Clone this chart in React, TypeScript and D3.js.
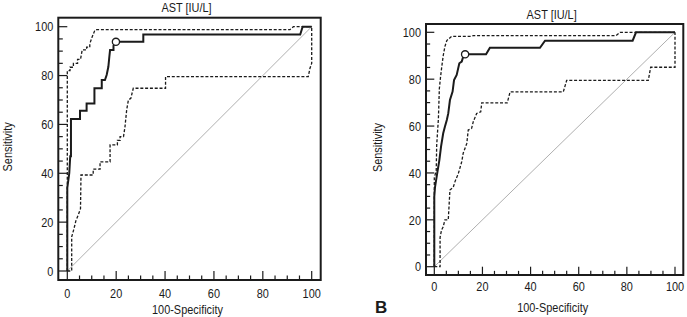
import React from "react";
import * as d3 from "d3";

type Pt = [number, number];

const xTicks = [0, 20, 40, 60, 80, 100];
const yTicks = [0, 20, 40, 60, 80, 100];
const chartTitle = "AST [IU/L]";
const xTitle = "100-Specificity";
const yTitle = "Sensitivity";

// panel A: empirical ROC curve with its confidence band
const rocA: Pt[] = [
  [0, 0], [0, 34], [0.8, 40], [1.2, 47], [1.5, 47], [1.5, 62.2], [5.2, 62.2],
  [5.2, 65.6], [7.9, 65.6], [7.9, 68.6], [11.1, 68.6], [11.1, 74.8], [14.1, 74.8],
  [14.1, 78.2], [15.4, 78.2], [16.1, 80.2], [16.8, 83.6], [17.2, 87.7], [17.5, 90.5],
  [18.9, 90.5], [18.9, 92.2], [19.9, 93.8], [31.1, 93.8], [31.1, 96.8], [95.3, 96.8],
  [96.3, 100], [100, 100],
];
const upperA: Pt[] = [
  [0, 0], [0, 82], [1.1, 82], [1.1, 83.4], [2.5, 83.4], [2.5, 85], [4.2, 85],
  [4.2, 86.6], [5.4, 86.6], [6.1, 90.5], [7.9, 90.5], [7.9, 91.6], [9.2, 91.6],
  [9.2, 93], [10.2, 95.9], [11.3, 98.6], [12, 98.8], [91.1, 98.8], [92.5, 100], [100, 100],
];
const lowerA: Pt[] = [
  [0, 0], [1.8, 0], [1.8, 14], [2.6, 16.8], [3.5, 20.5], [4.5, 23], [5.4, 25.5],
  [5.6, 39.3], [10.6, 39.3], [10.6, 41.7], [13.4, 41.7], [13.4, 44.7], [17.5, 44.7],
  [17.5, 51.6], [20.5, 51.6], [20.5, 53.5], [21.6, 53.5], [21.6, 55], [23, 55],
  [23.6, 59], [24.3, 66], [25, 70], [26, 70.7], [27, 74.8], [40.2, 74.8], [40.2, 79.6],
  [98.6, 79.6], [99.3, 83], [100, 85], [100, 100],
];
const cutoffA: Pt = [19.9, 93.8];

// panel B
const rocB: Pt[] = [
  [0, 0], [0, 30], [0.3, 34], [1.2, 39.8], [2.1, 45.5], [2.8, 51.2], [3.7, 56.9],
  [4.4, 59.7], [5.2, 62.6], [5.8, 65.4], [6.5, 71.1], [7.6, 74.7], [8.2, 79.6],
  [9.3, 81.8], [10.4, 86.8], [11.4, 87.5], [12, 89.6], [12.8, 90.6], [21.5, 90.6],
  [23.1, 93.4], [43.9, 93.4], [46, 96.4], [82.4, 96.4], [83.8, 100], [100, 100],
];
const upperB: Pt[] = [
  [0, 0], [0, 38], [0.8, 41], [1, 52], [1.7, 63], [2.1, 76], [2.6, 81], [3.1, 85.3],
  [3.7, 90], [4.4, 93.9], [5.2, 96.5], [7.2, 98.3], [15.5, 98.3], [16.2, 98.6],
  [75.5, 98.6], [77.2, 100], [100, 100],
];
const lowerB: Pt[] = [
  [0, 0], [2.4, 0], [2.4, 12.5], [3, 15.6], [3.7, 17], [4.4, 20], [5.8, 20],
  [6.5, 32.7], [7.9, 34], [8.6, 36.3], [10, 39.8], [11.4, 44.8], [12, 48.4],
  [13.5, 52.6], [14.1, 58.3], [15.5, 59], [16.2, 61.9], [17.6, 65.4], [19.3, 66.1],
  [19.7, 69.9], [30.3, 69.9], [31.5, 74.6], [53.6, 74.6], [55, 79.5], [88.9, 79.5],
  [89.9, 85.1], [100, 85.1], [100, 100],
];
const cutoffB: Pt = [12.8, 90.6];

const FONT = "'Liberation Sans', Arial, sans-serif";
const INK = "#1b1b1b";

// condensed label: regular sans squeezed horizontally
function Label({
  x, y, anchor = "middle", rotate = 0, dy, children,
}: {
  x: number; y: number; anchor?: "start" | "middle" | "end"; rotate?: number; dy?: string;
  children: React.ReactNode;
}) {
  return (
    <text
      transform={`translate(${x},${y}) rotate(${rotate}) scale(0.84,1)`}
      textAnchor={anchor}
      dy={dy}
      fontSize={13}
    >
      {children}
    </text>
  );
}

type PanelProps = {
  roc: Pt[];
  upper: Pt[];
  lower: Pt[];
  cutoff: Pt;
  left: number;
  right: number;
  top: number;
  bottom: number;
  pad: number;
  titleY: number;
  tickLabelY: number;
  xTitleY: number;
  yTitleX: number;
};

function RocPanel(p: PanelProps) {
  const x = d3.scaleLinear().domain([0, 100]).range([p.left, p.right]);
  const y = d3.scaleLinear().domain([0, 100]).range([p.bottom, p.top]);
  const line = d3.line<Pt>().x((d) => x(d[0])).y((d) => y(d[1]));
  const minor = d3.range(0, 101, 5);
  const fl = p.left - p.pad;
  const fr = p.right + p.pad;
  const ft = p.top - p.pad;
  const fb = p.bottom + p.pad;
  const cx = (fl + fr) / 2;
  const cy = (ft + fb) / 2;

  return (
    <g fontFamily={FONT} fill={INK}>
      <Label x={cx - 3} y={p.titleY}>{chartTitle}</Label>

      {/* reference diagonal */}
      <line x1={x(0)} y1={y(0)} x2={x(100)} y2={y(100)} stroke="#9a9a9a" strokeWidth={0.8} />

      <path d={line(p.upper) ?? ""} fill="none" stroke={INK} strokeWidth={1.3} strokeDasharray="3,1.8" />
      <path d={line(p.lower) ?? ""} fill="none" stroke={INK} strokeWidth={1.3} strokeDasharray="3,1.8" />
      <path d={line(p.roc) ?? ""} fill="none" stroke={INK} strokeWidth={2} strokeLinejoin="miter" />
      <circle cx={x(p.cutoff[0])} cy={y(p.cutoff[1])} r={3.6} fill="#fff" stroke={INK} strokeWidth={1.3} />

      {/* frame and inward ticks */}
      <rect x={fl} y={ft} width={fr - fl} height={fb - ft} fill="none" stroke={INK} strokeWidth={2} />
      {minor.map((v) => {
        const major = v % 20 === 0;
        const len = major ? p.pad : p.pad * 0.5;
        return (
          <g key={v} stroke={INK} strokeWidth={1.2}>
            <line x1={x(v)} x2={x(v)} y1={fb} y2={fb - len} />
            <line x1={fl} x2={fl + len} y1={y(v)} y2={y(v)} />
          </g>
        );
      })}

      {xTicks.map((v) => (
        <Label key={v} x={x(v)} y={p.tickLabelY}>{v}</Label>
      ))}
      {yTicks.map((v) => (
        <Label key={v} x={fl - 5} y={y(v)} dy="0.36em" anchor="end">{v}</Label>
      ))}

      <Label x={cx - 2} y={p.xTitleY}>{xTitle}</Label>
      <Label x={p.yTitleX} y={cy - 2} rotate={-90}>{yTitle}</Label>
    </g>
  );
}

export default function App() {
  return (
    <svg width={687} height={317} style={{ position: "absolute", left: 0, top: 0, background: "#fff" }}>
      <rect width={687} height={317} fill="#fff" />
      <RocPanel
        roc={rocA}
        upper={upperA}
        lower={lowerA}
        cutoff={cutoffA}
        left={67.3}
        right={311.7}
        top={26.7}
        bottom={271}
        pad={9}
        titleY={11.5}
        tickLabelY={298}
        xTitleY={314}
        yTitleX={12}
      />
      <RocPanel
        roc={rocB}
        upper={upperB}
        lower={lowerB}
        cutoff={cutoffB}
        left={434.3}
        right={675}
        top={32.3}
        bottom={266.7}
        pad={8.3}
        titleY={18.5}
        tickLabelY={291}
        xTitleY={312}
        yTitleX={382}
      />
      <text x={375} y={313} fontFamily={FONT} fontWeight="bold" fontSize={17} fill={INK}>
        B
      </text>
    </svg>
  );
}
